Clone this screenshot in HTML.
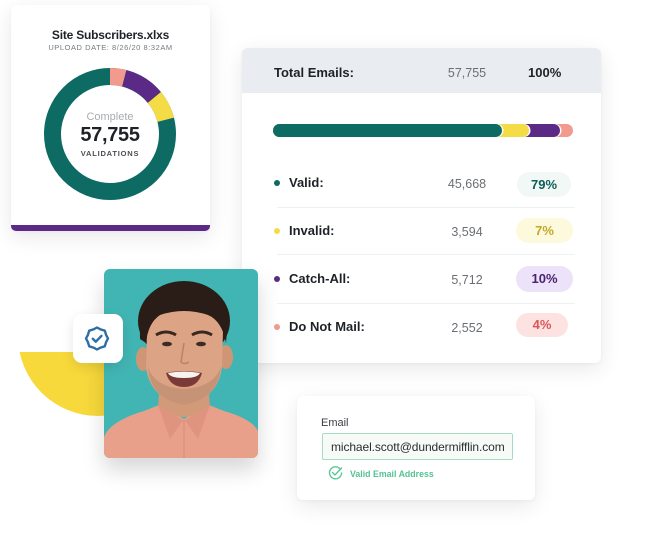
<!DOCTYPE html>
<html><head><meta charset="utf-8"><style>
*{margin:0;padding:0;box-sizing:border-box}
body{width:654px;height:555px;background:#fff;position:relative;overflow:hidden;font-family:"Liberation Sans",Arial,sans-serif;color:#1e2227}
.a{position:absolute}
.card{position:absolute;background:#fff;border-radius:6px;box-shadow:0 6px 22px rgba(0,0,0,0.09),0 1px 3px rgba(0,0,0,0.04)}
.t{position:absolute;white-space:nowrap}
.lbl{font-size:13px;font-weight:bold;line-height:16px}
.num{font-size:12.5px;color:#6b6f74;line-height:16px;width:60px;text-align:center}
.pill{position:absolute;border-radius:13px;font-size:13px;font-weight:bold;text-align:center}
.dot{position:absolute;width:6px;height:6px;border-radius:50%}
.div{position:absolute;left:277px;width:298px;height:1px;background:#eef0f2}
</style></head><body>

<!-- yellow circle -->
<svg class="a" style="left:0;top:0" width="654" height="555">
<defs><clipPath id="yc"><rect x="0" y="352" width="200" height="200"/></clipPath></defs>
<circle cx="98" cy="336" r="80" fill="#f7d93c" clip-path="url(#yc)"/>
</svg>

<!-- Card 1 -->
<div class="card" style="left:11px;top:5px;width:199px;height:226px;border-bottom:6px solid #5a2a86;border-radius:5px"></div>
<div class="t" style="left:11px;top:27px;width:199px;text-align:center;font-size:12px;font-weight:bold;letter-spacing:-0.2px;line-height:16px">Site Subscribers.xlxs</div>
<div class="t" style="left:11px;top:43px;width:199px;text-align:center;font-size:7.5px;letter-spacing:0.55px;color:#76797d;line-height:10px">UPLOAD DATE: 8/26/20 8:32AM</div>
<svg class="a" style="left:0;top:0" width="230" height="240">
<g transform="translate(110,134) rotate(-90)">
<circle r="57.5" fill="none" stroke="#0d6b63" stroke-width="17"/>
<circle r="57.5" fill="none" stroke="#f29a8e" stroke-width="17" stroke-dasharray="14.45 400" stroke-dashoffset="0"/>
<circle r="57.5" fill="none" stroke="#5a2a86" stroke-width="17" stroke-dasharray="36.13 400" stroke-dashoffset="-14.45"/>
<circle r="57.5" fill="none" stroke="#f3dc45" stroke-width="17" stroke-dasharray="25.29 400" stroke-dashoffset="-50.58"/>
</g>
</svg>
<div class="t" style="left:60px;top:110px;width:100px;text-align:center;font-size:11px;color:#a9acaf;line-height:14px">Complete</div>
<div class="t" style="left:60px;top:123px;width:100px;text-align:center;font-size:20px;font-weight:bold;line-height:24px;letter-spacing:-0.3px">57,755</div>
<div class="t" style="left:60px;top:149px;width:100px;text-align:center;font-size:7.5px;font-weight:bold;letter-spacing:0.8px;color:#4a4e53;line-height:10px">VALIDATIONS</div>

<!-- Card 2 -->
<div class="card" style="left:242px;top:48px;width:359px;height:315px;overflow:hidden">
  <div class="a" style="left:0;top:0;width:359px;height:45px;background:#e9edf2"></div>
</div>
<div class="t lbl" style="left:274px;top:65px">Total Emails:</div>
<div class="t num" style="left:437px;top:65px">57,755</div>
<div class="t lbl" style="left:528px;top:65px">100%</div>

<!-- progress bar -->
<div class="a" style="left:273px;top:124px;width:300px;height:13px;border-radius:7px;background:#f29a8e"></div>
<div class="a" style="left:273px;top:124px;width:287px;height:13px;border-radius:7px;background:#5a2a86;box-shadow:1.5px 0 0 #fff"></div>
<div class="a" style="left:273px;top:124px;width:256px;height:13px;border-radius:7px;background:#f3dc45;box-shadow:1.5px 0 0 #fff"></div>
<div class="a" style="left:273px;top:124px;width:229px;height:13px;border-radius:7px;background:#0d6b63;box-shadow:1.5px 0 0 #fff"></div>

<!-- rows -->
<div class="dot" style="left:274px;top:180px;background:#0d6b63"></div>
<div class="t lbl" style="left:289px;top:175px">Valid:</div>
<div class="t num" style="left:437px;top:176px">45,668</div>
<div class="pill" style="left:517px;top:172px;width:54px;height:25px;line-height:25px;background:#f1f8f6;color:#0d5e57">79%</div>
<div class="div" style="top:207px"></div>

<div class="dot" style="left:274px;top:228px;background:#f3dc45"></div>
<div class="t lbl" style="left:289px;top:223px">Invalid:</div>
<div class="t num" style="left:437px;top:224px">3,594</div>
<div class="pill" style="left:516px;top:218px;width:57px;height:25px;line-height:25px;background:#fdf9dd;color:#c4a82a">7%</div>
<div class="div" style="top:254px"></div>

<div class="dot" style="left:274px;top:276px;background:#5a2a86"></div>
<div class="t lbl" style="left:289px;top:271px">Catch-All:</div>
<div class="t num" style="left:437px;top:272px">5,712</div>
<div class="pill" style="left:516px;top:266px;width:57px;height:26px;line-height:26px;background:#ece2fa;color:#4a2270">10%</div>
<div class="div" style="top:303px"></div>

<div class="dot" style="left:274px;top:324px;background:#f29a8e"></div>
<div class="t lbl" style="left:289px;top:319px">Do Not Mail:</div>
<div class="t num" style="left:437px;top:320px">2,552</div>
<div class="pill" style="left:516px;top:313px;width:52px;height:24px;line-height:24px;background:#fde2e2;color:#d95757">4%</div>

<!-- Photo -->
<div class="a" style="left:104px;top:269px;width:154px;height:189px;border-radius:6px;overflow:hidden;background:#41b5b3;box-shadow:0 12px 22px rgba(0,0,0,0.16)">
<svg width="154" height="189" viewBox="0 0 154 189">
  <path d="M0,168 Q6,152 40,142 L55,136 L80,150 L105,136 L120,142 Q148,150 154,162 L154,189 L0,189 Z" fill="#e8a08b"/>
  <path d="M56,112 L104,112 L106,138 Q80,158 54,138 Z" fill="#d39a79"/>
  <path d="M54,136 L66,170 L80,150 L94,170 L106,136 L80,152 Z" fill="#df9480"/>
  <line x1="80" y1="152" x2="80" y2="189" stroke="#d48b77" stroke-width="1"/>
  <ellipse cx="39" cy="90" rx="7" ry="12" fill="#cf9675"/>
  <ellipse cx="122" cy="88" rx="7" ry="12" fill="#cf9675"/>
  <ellipse cx="80" cy="52" rx="46" ry="40" fill="#2a1d18"/>
  <path d="M43,62 Q45,40 80,40 Q117,40 119,62 L118,98 Q114,130 80,136 Q46,130 42,98 Z" fill="#dca384"/>
  <path d="M36,70 Q34,30 70,22 Q110,16 124,50 L122,74 Q118,52 104,46 Q80,38 56,46 Q44,54 42,74 Z" fill="#2a1d18"/>
  <path d="M44,98 Q46,130 80,136 Q114,130 117,98 Q110,118 80,120 Q50,118 44,98 Z" fill="#bd8b70" opacity="0.7"/>
  <path d="M52,66 Q62,60 72,66" stroke="#3a2720" stroke-width="3" fill="none"/>
  <path d="M88,66 Q98,60 108,66" stroke="#3a2720" stroke-width="3" fill="none"/>
  <ellipse cx="63" cy="75" rx="5" ry="2.3" fill="#3d2c26"/>
  <ellipse cx="97" cy="75" rx="5" ry="2.3" fill="#3d2c26"/>
  <path d="M80,74 L77,93 Q80,96 85,93" stroke="#b98466" stroke-width="1.5" fill="none"/>
  <path d="M62,104 Q80,100 98,104 Q94,118 80,118 Q66,118 62,104 Z" fill="#7a3a35"/>
  <path d="M64,104 Q80,101 96,104 Q94,109 80,109 Q66,109 64,104 Z" fill="#f7f3ef"/>
</svg>
</div>

<!-- badge -->
<div class="a" style="left:73px;top:314px;width:50px;height:49px;border-radius:9px;background:#fff;box-shadow:0 4px 12px rgba(0,0,0,0.1)"></div>
<svg class="a" style="left:73px;top:314px" width="50" height="49" viewBox="0 0 50 49">
  <g transform="translate(24,24.5)">
    <polygon points="0,-11 3.6,-9.1 7.8,-7.8 9.1,-3.6 11,0 9.1,3.6 7.8,7.8 3.6,9.1 0,11 -3.6,9.1 -7.8,7.8 -9.1,3.6 -11,0 -9.1,-3.6 -7.8,-7.8 -3.6,-9.1" fill="none" stroke="#2d6ea6" stroke-width="2.4" stroke-linejoin="round"/>
    <path d="M-4.2,0.3 L-1.2,3.2 L4.4,-2.6" fill="none" stroke="#2d6ea6" stroke-width="2.4" stroke-linecap="round" stroke-linejoin="round"/>
  </g>
</svg>

<!-- Email card -->
<div class="card" style="left:297px;top:396px;width:238px;height:104px"></div>
<div class="t" style="left:321px;top:416px;font-size:11px;color:#3a3e43;line-height:14px">Email</div>
<div class="a" style="left:322px;top:433px;width:191px;height:27px;border:1.3px solid #a6dcc4;background:#f6fbf8;border-radius:2px"></div>
<div class="t" style="left:331px;top:439px;font-size:12px;color:#2a2e33;line-height:16px;letter-spacing:-0.1px">michael.scott@dundermifflin.com</div>
<svg class="a" style="left:327px;top:465px" width="18" height="16" viewBox="0 0 18 16">
  <path d="M13.5,4.5 A6,6 0 1 0 14.5,8" fill="none" stroke="#5cc79c" stroke-width="1.4" stroke-linecap="round"/>
  <path d="M5.5,7.5 L8,10 L14.5,3" fill="none" stroke="#5cc79c" stroke-width="1.4" stroke-linecap="round" stroke-linejoin="round"/>
</svg>
<div class="t" style="left:350px;top:469px;font-size:8.8px;font-weight:bold;color:#54c294;line-height:11px">Valid Email Address</div>

</body></html>
